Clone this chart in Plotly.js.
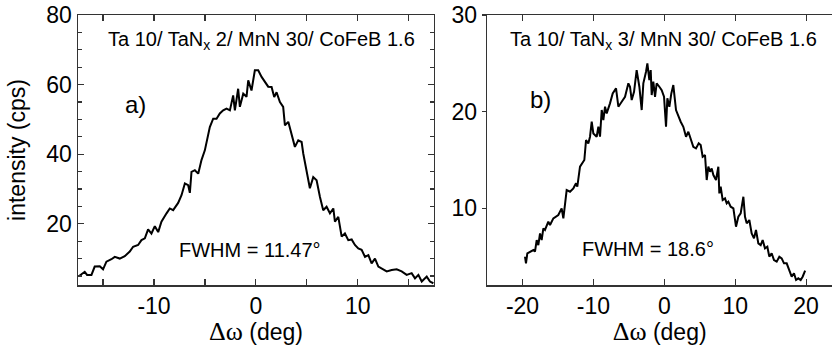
<!DOCTYPE html>
<html>
<head>
<meta charset="utf-8">
<script src="https://cdn.plot.ly/plotly-3.0.1.min.js"></script>
<style>html,body{margin:0;padding:0;background:#fff;}#chart{width:832px;height:346px;}</style>
</head>
<body>
<div id="chart"></div>
<script>
// Panel a) Ta 10/ TaNx 2/ MnN 30/ CoFeB 1.6
const omegaA = [-17.35,-16.80,-16.57,-16.14,-15.82,-15.32,-15.00,-14.67,-14.18,-13.85,-13.36,-12.87,-12.38,-12.05,-11.56,-11.23,-10.90,-10.58,-10.25,-9.92,-9.59,-9.27,-8.77,-8.45,-8.12,-7.63,-7.30,-6.97,-6.65,-6.48,-6.32,-5.99,-5.66,-5.34,-5.01,-4.68,-4.52,-4.19,-3.86,-3.54,-3.21,-2.88,-2.55,-2.23,-2.06,-1.74,-1.57,-1.24,-0.92,-0.75,-0.43,-0.10,0.23,0.56,0.88,1.21,1.54,1.80,2.03,2.36,2.68,2.85,3.18,3.50,3.83,4.16,4.49,4.65,4.98,5.30,5.63,5.96,6.29,6.61,6.94,7.27,7.60,7.76,8.09,8.42,8.74,9.07,9.40,9.72,10.05,10.38,10.71,11.04,11.36,11.69,12.02,12.34,12.84,13.33,13.82,14.31,14.80,15.29,15.62,15.95,16.28,16.77,17.09,17.42];
const intensityA = [5.0,6.2,5.3,5.3,7.7,7.8,6.9,9.1,9.8,10.5,10.0,10.7,12.0,13.4,13.9,15.3,15.8,18.4,17.2,19.3,17.6,20.6,23.0,24.4,23.9,26.0,28.2,31.6,31.1,28.9,34.9,35.4,34.4,38.3,41.1,45.9,47.8,50.2,50.2,51.7,52.6,53.1,52.6,56.9,52.6,58.8,53.6,57.4,56.5,61.2,58.3,64.1,64.1,62.2,60.7,59.4,59.3,56.4,57.8,55.0,53.6,48.3,49.3,45.9,42.1,44.0,43.5,40.2,34.5,30.2,33.4,32.5,27.7,23.9,24.9,23.0,24.4,20.6,22.0,16.3,17.2,15.3,15.5,13.9,12.9,12.5,10.5,11.0,8.6,10.0,7.7,7.2,6.3,6.7,6.9,6.3,5.3,5.8,4.3,5.3,3.4,4.8,3.4,2.9];

// Panel b) Ta 10/ TaNx 3/ MnN 30/ CoFeB 1.6
const omegaB = [-19.65,-19.51,-19.32,-18.94,-18.47,-18.24,-18.00,-17.77,-17.53,-17.30,-17.06,-16.83,-16.36,-16.12,-15.65,-14.95,-14.48,-14.24,-13.77,-13.30,-12.83,-12.45,-12.27,-11.89,-11.51,-11.28,-11.04,-10.72,-10.48,-10.24,-10.01,-9.54,-9.30,-9.07,-8.83,-8.60,-8.36,-8.13,-7.66,-7.28,-6.81,-6.48,-6.01,-5.54,-5.07,-4.84,-4.60,-4.27,-3.90,-3.52,-3.19,-2.96,-2.58,-2.39,-2.11,-1.92,-1.78,-1.55,-1.31,-1.08,-0.70,-0.37,-0.04,0.24,0.43,0.71,0.99,1.27,1.65,1.98,2.31,2.68,3.06,3.39,3.72,4.09,4.47,4.85,5.13,5.41,5.74,5.98,6.21,6.45,6.68,6.92,7.29,7.62,7.76,7.95,8.23,8.56,8.80,9.03,9.36,9.74,10.11,10.44,10.77,11.15,11.38,11.62,11.99,12.32,12.65,12.93,13.26,13.59,13.87,14.20,14.53,14.81,15.14,15.47,15.85,16.22,16.55,16.88,17.26,17.63,17.96,18.29,18.58,18.90,19.23,19.51,19.86];
const intensityB = [5.0,4.31,5.34,5.52,5.69,5.52,6.72,6.20,7.41,6.72,7.93,7.76,8.62,8.27,8.96,9.31,10.0,8.96,11.89,11.72,12.07,12.59,12.24,14.31,14.82,15.0,17.06,16.72,17.41,18.96,17.75,17.41,18.44,17.41,20.17,19.13,20.51,19.82,20.86,21.89,22.41,20.51,21.03,21.54,22.93,22.58,21.2,22.06,24.3,22.58,20.17,22.93,24.13,25.0,23.27,24.3,21.72,23.1,21.54,22.93,22.58,22.23,21.54,18.44,21.38,20.51,21.89,22.75,20.17,19.47,18.96,18.44,17.41,17.92,17.06,16.37,16.2,16.72,16.55,15.34,15.51,12.93,14.31,13.79,14.13,13.44,12.93,14.31,11.55,12.24,10.86,11.03,10.52,10.69,10.17,10.0,8.1,9.13,9.48,11.2,9.13,8.45,8.79,7.41,6.9,7.76,6.38,6.2,6.72,5.86,6.03,5.0,5.34,4.65,4.48,5.0,4.82,4.31,4.31,3.62,2.93,3.28,2.59,2.76,2.59,2.93,3.55];

// Tick labels (hyphen minus as in the reference)
const xTickValsA = [-10, 0, 10];
const xTickTextA = ['-10', '0', '10'];
const yTickValsA = [20, 40, 60, 80];
const yTickTextA = ['20', '40', '60', '80'];
const xTickValsB = [-20, -10, 0, 10, 20];
const xTickTextB = ['-20', '-10', '0', '10', '20'];
const yTickValsB = [10, 20, 30];
const yTickTextB = ['10', '20', '30'];

const xTitle = '<span style="font-family:\'Liberation Serif\',serif;font-size:26px">Δω</span> (deg)';
const yTitle = 'intensity (cps)';
const labelA = 'Ta 10/ TaN<sub>x</sub> 2/ MnN 30/ CoFeB 1.6';
const labelB = 'Ta 10/ TaN<sub>x</sub> 3/ MnN 30/ CoFeB 1.6';
const fwhmA = 'FWHM = 11.47°';
const fwhmB = 'FWHM = 18.6°';

const FONT = 'Liberation Sans, Arial, sans-serif';
const AX = '#333';
const TICKFONT = {size: 23, family: FONT, color: '#000'};

const traces = [
  {x: omegaA, y: intensityA, type: 'scatter', mode: 'lines', line: {color: '#000', width: 2}, xaxis: 'x', yaxis: 'y', hoverinfo: 'skip'},
  {x: omegaB, y: intensityB, type: 'scatter', mode: 'lines', line: {color: '#000', width: 2}, xaxis: 'x2', yaxis: 'y2', hoverinfo: 'skip'}
];

const layout = {
  width: 832, height: 346,
  margin: {l: 78, r: 0, t: 15, b: 61},
  paper_bgcolor: '#fff', plot_bgcolor: '#fff',
  showlegend: false,
  font: {family: FONT, size: 20, color: '#000'},
  xaxis: {
    domain: [0, 0.4721], range: [-17.46, 17.48],
    showgrid: false, zeroline: false,
    showline: true, linecolor: AX, linewidth: 1.5, mirror: 'ticks',
    ticks: 'inside', ticklen: 6, tickcolor: AX, tickwidth: 1.2,
    tickmode: 'array', tickvals: xTickValsA, ticktext: xTickTextA,
    minor: {tickmode: 'linear', tick0: 0, dtick: 5, ticks: 'inside', ticklen: 6, tickcolor: AX, tickwidth: 1.2, showgrid: false},
    tickfont: TICKFONT,
    title: {text: xTitle, font: {size: 23, family: FONT, color: '#000'}, standoff: 4},
    anchor: 'y'
  },
  yaxis: {
    domain: [0, 1], range: [2.4, 80],
    showgrid: false, zeroline: false,
    showline: true, linecolor: AX, linewidth: 1.5, mirror: 'ticks',
    ticks: 'inside', ticklen: 6, tickcolor: AX, tickwidth: 1.2,
    tickmode: 'array', tickvals: yTickValsA, ticktext: yTickTextA,
    minor: {tickmode: 'linear', tick0: 0, dtick: 5, ticks: 'inside', ticklen: 4, tickcolor: AX, tickwidth: 1.2, showgrid: false},
    tickfont: TICKFONT,
    title: {text: yTitle, font: {size: 23, family: FONT, color: '#000'}, standoff: 14},
    anchor: 'x'
  },
  xaxis2: {
    domain: [0.5428, 1], range: [-24.97, 23.65],
    showgrid: false, zeroline: false,
    showline: true, linecolor: AX, linewidth: 1.5, mirror: 'ticks',
    ticks: 'inside', ticklen: 6, tickcolor: AX, tickwidth: 1.2,
    tickmode: 'array', tickvals: xTickValsB, ticktext: xTickTextB,
    tickfont: TICKFONT,
    title: {text: xTitle, font: {size: 23, family: FONT, color: '#000'}, standoff: 4},
    anchor: 'y2'
  },
  yaxis2: {
    domain: [0, 1], range: [2.07, 30],
    showgrid: false, zeroline: false,
    showline: true, linecolor: AX, linewidth: 1.5, mirror: false,
    ticks: 'outside', ticklen: 4, tickcolor: AX, tickwidth: 1.2,
    tickmode: 'array', tickvals: yTickValsB, ticktext: yTickTextB,
    tickfont: TICKFONT,
    anchor: 'x2'
  },
  annotations: [
    {xref: 'x', yref: 'y', x: 0.59, y: 72.7, text: labelA, showarrow: false, font: {size: 20, family: FONT, color: '#000'}},
    {xref: 'x', yref: 'y', x: -11.8, y: 54.3, text: 'a)', showarrow: false, font: {size: 24, family: FONT, color: '#000'}},
    {xref: 'x', yref: 'y', x: -0.59, y: 12.45, text: fwhmA, showarrow: false, font: {size: 20, family: FONT, color: '#000'}},
    {xref: 'x2', yref: 'y2', x: -0.18, y: 27.4, text: labelB, showarrow: false, font: {size: 20, family: FONT, color: '#000'}},
    {xref: 'x2', yref: 'y2', x: -17.4, y: 21.3, text: 'b)', showarrow: false, font: {size: 24, family: FONT, color: '#000'}},
    {xref: 'x2', yref: 'y2', x: -2.3, y: 5.8, text: fwhmB, showarrow: false, font: {size: 20, family: FONT, color: '#000'}}
  ]
};

Plotly.newPlot('chart', traces, layout, {staticPlot: true, displayModeBar: false});
</script>
</body>
</html>
